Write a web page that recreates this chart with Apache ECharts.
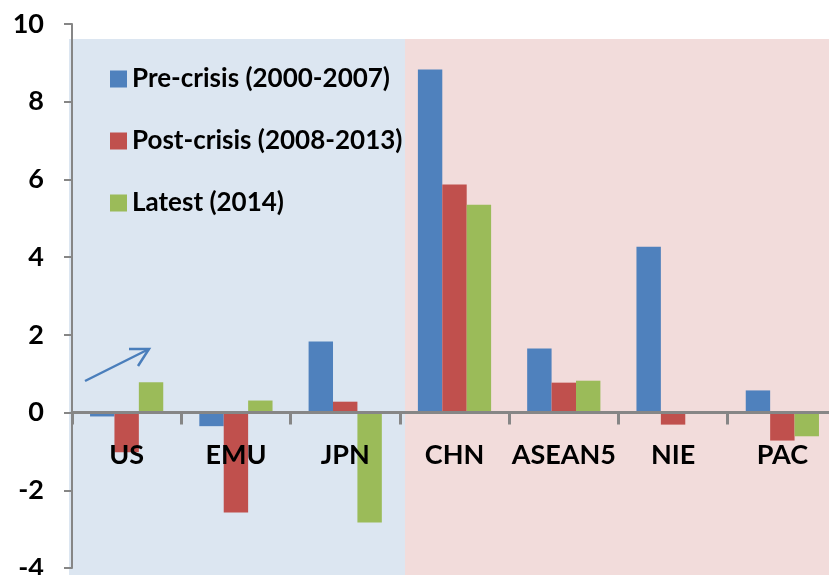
<!DOCTYPE html>
<html><head><meta charset="utf-8">
<script src="https://cdn.jsdelivr.net/npm/echarts@6/dist/echarts.min.js"></script>
<style>html,body{margin:0;padding:0;background:#fff}#c{width:829px;height:575px}</style>
</head><body><div id="c"></div>
<script>
const categories = ['US','EMU','JPN','CHN','ASEAN5','NIE','PAC'];
const seriesNames = ['Pre-crisis (2000-2007)','Post-crisis (2008-2013)','Latest (2014)'];
const preCrisis = [-0.1, -0.35, 1.83, 8.83, 1.65, 4.27, 0.57];
const postCrisis = [-1.02, -2.57, 0.28, 5.87, 0.77, -0.31, -0.72];
const latest = [0.78, 0.31, -2.83, 5.35, 0.82, 0.04, -0.61];
const yTicks = {min:-4, max:10, interval:2};
const colors = ['#4f81bd','#c0504d','#9bbb59'];
const font = 'Lato, "Open Sans", sans-serif';

const chart = echarts.init(document.getElementById('c'));
const mk = (name, data, i) => ({
  name, type:'bar', data, barGap:'0%', barCategoryGap:'33%',
  itemStyle:{color:colors[i]}, z:3
});
chart.setOption({
  animation:false,
  textStyle:{fontFamily:font},
  grid:{left:72, top:24, width:765, height:544, containLabel:false, outerBoundsMode:'none'},
  legend:{
    orient:'vertical', left:110, top:66, itemGap:36, itemWidth:17, itemHeight:17, padding:0,
    icon:'rect', data:seriesNames,
    textStyle:{fontFamily:font, fontWeight:'bold', fontSize:26, color:'#000'}
  },
  xAxis:{
    type:'category', data:categories, z:10,
    axisLine:{onZero:true, lineStyle:{color:'#868686', width:3}},
    axisTick:{show:true, length:12, lineStyle:{color:'#868686', width:3}},
    axisLabel:{interval:0, margin:-113, verticalAlign:'middle', fontFamily:font, fontWeight:'bold', fontSize:27, color:'#000'},
    splitLine:{show:false}
  },
  yAxis:{
    type:'value', min:yTicks.min, max:yTicks.max, interval:yTicks.interval,
    axisLine:{show:true, lineStyle:{color:'#868686', width:2}},
    axisTick:{show:true, length:8, lineStyle:{color:'#868686', width:2}},
    axisLabel:{margin:28, fontFamily:font, fontWeight:'bold', fontSize:27, color:'#000'},
    splitLine:{show:false}
  },
  graphic:[
    {type:'rect', shape:{x:69, y:39, width:336, height:536}, style:{fill:'#dce6f1'}, z:-10, silent:true},
    {type:'rect', shape:{x:405, y:39, width:424, height:536}, style:{fill:'#f2dcdb'}, z:-10, silent:true},
    {type:'line', shape:{x1:85, y1:381, x2:149, y2:349}, style:{stroke:'#4a7ebb', lineWidth:2.5}, z:10},
    {type:'polyline', shape:{points:[[129,349],[149,349],[138,366]]}, style:{stroke:'#4a7ebb', lineWidth:2.5, fill:null}, z:10}
  ],
  series:[mk(seriesNames[0], preCrisis, 0), mk(seriesNames[1], postCrisis, 1), mk(seriesNames[2], latest, 2)]
});
</script></body></html>
